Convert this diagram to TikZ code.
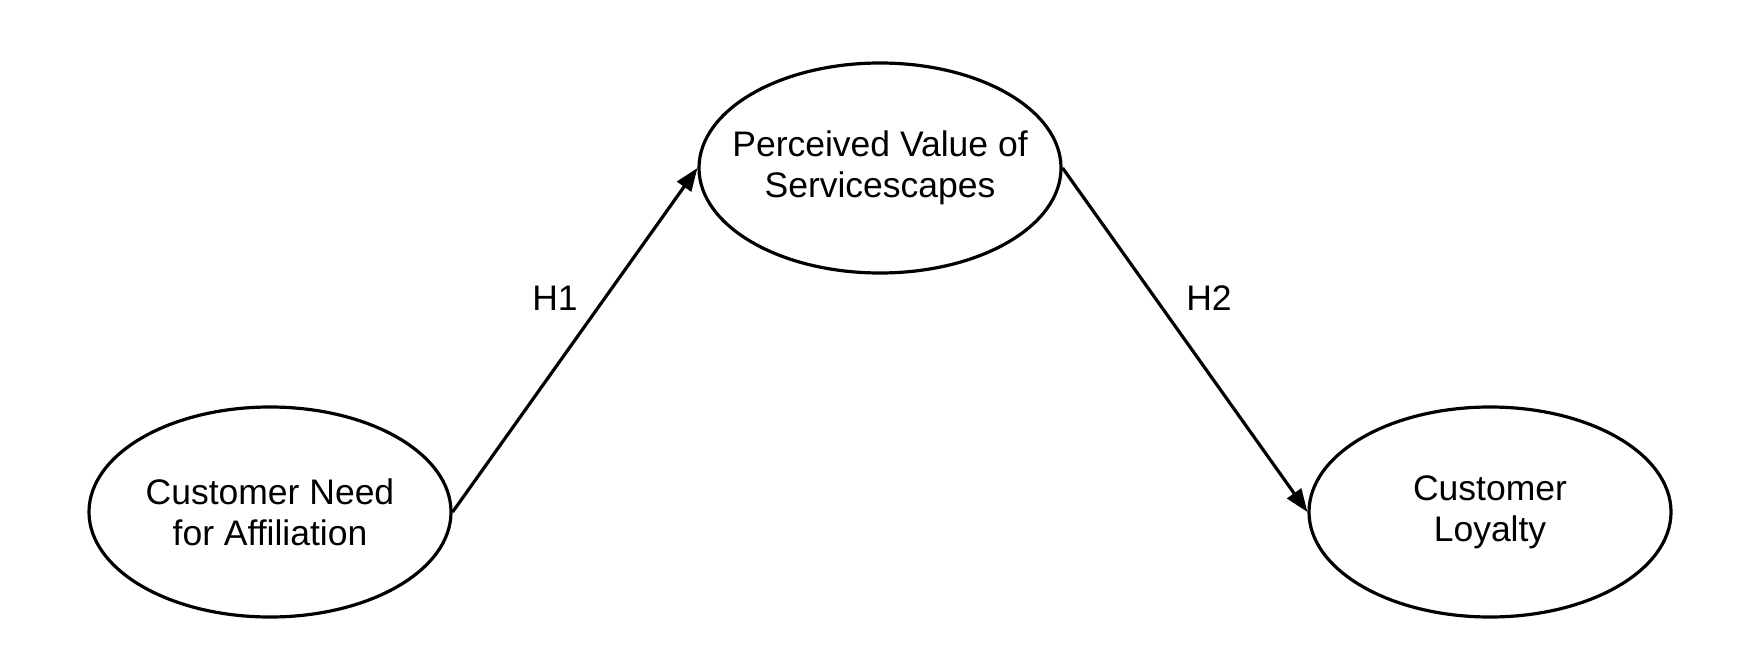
\documentclass[tikz,border=0pt]{standalone}
\usepackage{fontspec}
\setmainfont{Liberation Sans}
\usetikzlibrary{shapes.geometric,arrows.meta}
\begin{document}
\begin{tikzpicture}[x=1pt,y=-1pt,
  construct/.style={ellipse,draw,line width=3.2pt,minimum width=362pt,minimum height=210pt,inner sep=0pt},
  ctext/.style={align=center,inner sep=0pt,font=\fontsize{35.5}{41}\selectfont,text=black},
  path/.style={line width=3.2pt,-{Triangle[length=23pt,width=17pt]}},
  hyp/.style={font=\fontsize{35.5}{41}\selectfont,text=black}]
\useasboundingbox (0,0) rectangle (1744,655);
\fill[white] (0,0) rectangle (1744,655);
\node[construct] (cna) at (270,512) {};
\node[ctext] (cnat) at (cna.center) {Customer Need\\for Affiliation};
\node[construct] (pvs) at (880,168) {};
\node[ctext] (pvst) at (pvs.center) {Perceived Value of\\Servicescapes};
\node[construct] (cl) at (1490,512) {};
\node[ctext] (clt) at (cl.center) {Customer\\Loyalty};
\draw[path] (cna.east) -- (pvs.west);
\draw[path] (pvs.east) -- (cl.west);
\node[hyp] (h1) at (555,298) {H1};
\node[hyp] (h2) at (1209,298) {H2};
\end{tikzpicture}
\end{document}
